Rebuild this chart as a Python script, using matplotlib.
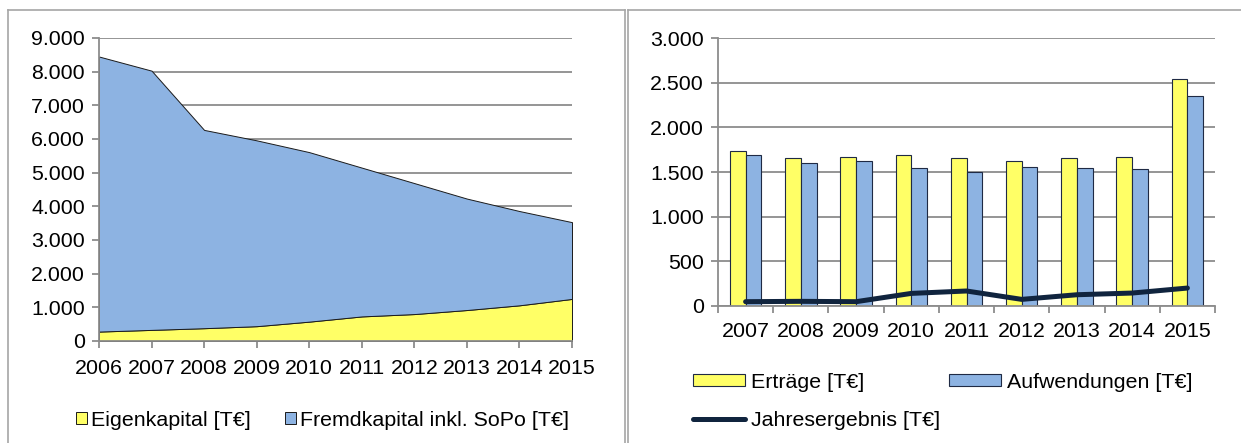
import matplotlib
matplotlib.use("Agg")
import matplotlib.pyplot as plt
import numpy as np
from matplotlib.lines import Line2D
from matplotlib.patches import Patch

plt.rcParams['font.family'] = ['Liberation Sans', 'DejaVu Sans']

# ---- data: left chart (stacked area) ----
years_left = [2006, 2007, 2008, 2009, 2010, 2011, 2012, 2013, 2014, 2015]
eigenkapital = [280, 330, 380, 440, 575, 730, 800, 920, 1060, 1250]
fremdkapital = [8170, 7700, 5890, 5520, 5035, 4420, 3890, 3310, 2800, 2280]
left_yticks = [0, 1000, 2000, 3000, 4000, 5000, 6000, 7000, 8000, 9000]
left_ylabels = ["0", "1.000", "2.000", "3.000", "4.000", "5.000", "6.000", "7.000", "8.000", "9.000"]
left_legend = ["Eigenkapital [T€]", "Fremdkapital inkl. SoPo [T€]"]

# ---- data: right chart (bars + line) ----
years_right = ["2007", "2008", "2009", "2010", "2011", "2012", "2013", "2014", "2015"]
ertraege = [1740, 1655, 1672, 1688, 1655, 1620, 1662, 1672, 2548]
aufwendungen = [1691, 1601, 1624, 1549, 1496, 1553, 1541, 1530, 2349]
jahresergebnis = [45, 49, 45, 138, 165, 71, 123, 142, 198]
right_yticks = [0, 500, 1000, 1500, 2000, 2500, 3000]
right_ylabels = ["0", "500", "1.000", "1.500", "2.000", "2.500", "3.000"]
right_legend = ["Erträge [T€]", "Aufwendungen [T€]", "Jahresergebnis [T€]"]

YELLOW = "#FFFF66"
BLUE = "#8DB3E2"
EDGE = "#1F2A44"
GRID = "#8C8C8C"
NAVY = "#10243E"
FS = 15.4

W, H = 1241, 443
fig = plt.figure(figsize=(W / 100, H / 100), dpi=100)
fig.patch.set_facecolor("white")

def fx(px):
    return px / W

def fy(py):
    return 1 - py / H

# panel frames
frame_kw = dict(color="#A6A6A6", lw=1.2, transform=fig.transFigure)
fig.add_artist(Line2D([fx(8), fx(8)], [fy(10), fy(445)], **frame_kw))
fig.add_artist(Line2D([fx(8), fx(624.5)], [fy(10), fy(10)], **frame_kw))
fig.add_artist(Line2D([fx(624.5), fx(624.5)], [fy(10), fy(445)], **frame_kw))
fig.add_artist(Line2D([fx(627.5), fx(627.5)], [fy(10), fy(445)], **frame_kw))
fig.add_artist(Line2D([fx(627.5), fx(1245)], [fy(10), fy(10)], **frame_kw))

# ---------------- left chart ----------------
axL = fig.add_axes([fx(99), fy(341), fx(572 - 99), (341 - 38) / H])
axL.stackplot(years_left, eigenkapital, fremdkapital, colors=[YELLOW, BLUE],
              edgecolor="#1a1a1a", linewidth=0.7, zorder=3)
axL.set_xlim(years_left[0], years_left[-1])
axL.set_ylim(0, 9000)
axL.set_yticks(left_yticks)
axL.set_yticklabels(left_ylabels, fontsize=FS)
axL.set_xticks(years_left)
axL.set_xticklabels([str(y) for y in years_left], fontsize=FS)
axL.grid(axis="y", color=GRID, lw=1.3, zorder=0)
axL.set_axisbelow(True)
for s in ["top", "right"]:
    axL.spines[s].set_visible(False)
for s in ["left", "bottom"]:
    axL.spines[s].set_color(GRID)
    axL.spines[s].set_linewidth(1.3)
    axL.spines[s].set_zorder(4)
axL.tick_params(axis="x", color=GRID, width=1.3, length=5, pad=8, labelcolor="black")
axL.tick_params(axis="y", color=GRID, width=1.3, length=5, pad=5, labelcolor="black")

handlesL = [Patch(facecolor=YELLOW, edgecolor="#1a1a1a", lw=0.7),
            Patch(facecolor=BLUE, edgecolor="#1a1a1a", lw=0.7)]
fig.legend(handlesL, left_legend, loc="center", ncol=2,
           bbox_to_anchor=(fx((76.5 + 568.5) / 2), fy(420)), frameon=False,
           fontsize=FS, handlelength=0.5, handleheight=0.5, handletextpad=0.2,
           columnspacing=1.6, borderpad=0, borderaxespad=0)

# ---------------- right chart ----------------
axR = fig.add_axes([fx(718), fy(305.7), fx(1215 - 718), (305.7 - 38.3) / H])
x = np.arange(len(years_right))
bw = 0.285
axR.bar(x - bw / 2, ertraege, width=bw, color=YELLOW, edgecolor=EDGE, lw=0.8, zorder=3)
axR.bar(x + bw / 2, aufwendungen, width=bw, color=BLUE, edgecolor=EDGE, lw=0.8, zorder=3)
axR.plot(x, jahresergebnis, color=NAVY, lw=3.6, solid_capstyle="round", zorder=4)
axR.set_xlim(-0.5, len(years_right) - 0.5)
axR.set_ylim(0, 3000)
axR.set_yticks(right_yticks)
axR.set_yticklabels(right_ylabels, fontsize=FS)
axR.set_xticks(np.arange(len(years_right) + 1) - 0.5)
axR.set_xticklabels([])
axR.set_xticks(x, minor=True)
axR.set_xticklabels(years_right, minor=True, fontsize=FS)
axR.tick_params(axis="x", which="minor", length=0, pad=12)
axR.tick_params(axis="x", which="major", color=GRID, width=1.3, length=5)
axR.tick_params(axis="y", color=GRID, width=1.3, length=5, pad=5)
axR.grid(axis="y", color=GRID, lw=1.3, zorder=0)
axR.set_axisbelow(True)
for s in ["top", "right"]:
    axR.spines[s].set_visible(False)
for s in ["left", "bottom"]:
    axR.spines[s].set_color(GRID)
    axR.spines[s].set_linewidth(1.3)
    axR.spines[s].set_zorder(5)

handlesR = [Patch(facecolor=YELLOW, edgecolor=EDGE, lw=0.8),
            Line2D([0], [0], color=NAVY, lw=3.6, solid_capstyle="round"),
            Patch(facecolor=BLUE, edgecolor=EDGE, lw=0.8)]
labelsR = [right_legend[0], right_legend[2], right_legend[1]]
fig.legend(handlesR, labelsR, loc="upper left", ncol=2,
           bbox_to_anchor=(fx(693), fy(372.5)), frameon=False,
           fontsize=FS, handlelength=2.43, handleheight=0.51, handletextpad=0.28,
           columnspacing=0.42, labelspacing=0.9, borderpad=0, borderaxespad=0)

fig.savefig("out.png", dpi=100, facecolor="white")
